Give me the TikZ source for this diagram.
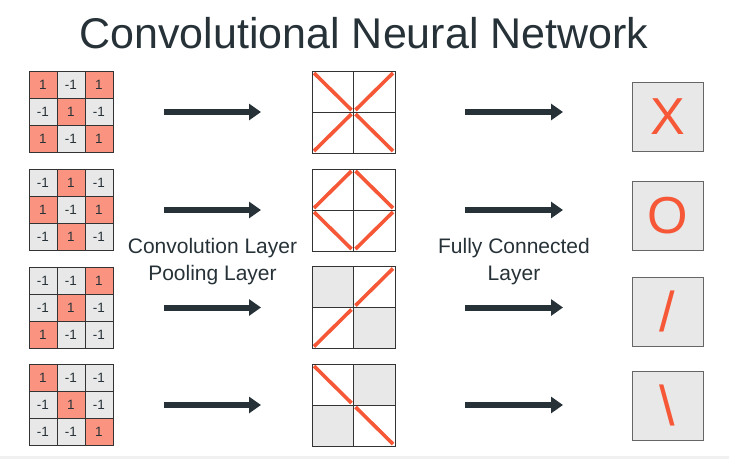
\documentclass[tikz,border=0pt]{standalone}
\usepackage{fontspec}
\setmainfont{Liberation Sans}
\usetikzlibrary{arrows.meta}

\definecolor{ink}{RGB}{38,50,56}
\definecolor{salmon}{RGB}{250,147,128}
\definecolor{cellgray}{RGB}{232,232,232}
\definecolor{redline}{RGB}{245,87,55}
\definecolor{frame}{RGB}{51,51,51}
\definecolor{band}{RGB}{240,240,240}

% input grid: name, centre y, nine values
\newcommand{\inputgrid}[3]{%
  \foreach \v [count=\i from 0] in {#3} {
    \pgfmathtruncatemacro\row{\i/3}
    \pgfmathtruncatemacro\col{mod(\i,3)}
    \ifnum\v=1 \def\cellfill{salmon}\else \def\cellfill{cellgray}\fi
    \node[numcell, fill=\cellfill] (#1-\row-\col) at (43+28*\col, #2-27+27*\row) {\v};
  }
  \node[gridframe] (#1) at (71,#2) {};
}

% pooled grid: name, centre y, four cells (u = /, d = \, g = gray, n = none)
\newcommand{\poolgrid}[3]{%
  \foreach \kind [count=\i from 0] in {#3} {
    \pgfmathtruncatemacro\row{\i/2}
    \pgfmathtruncatemacro\col{mod(\i,2)}
    \node[poolcell, pool\kind] (#1-\row-\col) at (332.75+41.5*\col, #2-20.5+41*\row) {};
  }
  \node[poolframe] (#1) at (353.5,#2) {};
}

\begin{document}
\begin{tikzpicture}
  [x=1pt, y=-1pt,
   numcell/.style={draw=frame, line width=0.8pt, minimum width=28pt, minimum height=27pt,
     inner sep=0pt, outer sep=0pt, text=ink, font=\fontsize{13.5}{13.5}\selectfont},
   gridframe/.style={draw=frame, line width=0.9pt, minimum width=84pt, minimum height=81pt,
     inner sep=0pt, outer sep=0pt},
   poolcell/.style={draw=frame, line width=0.8pt, minimum width=41.5pt, minimum height=41pt,
     inner sep=0pt, outer sep=0pt},
   poolframe/.style={draw=frame, line width=0.9pt, minimum width=83pt, minimum height=82pt,
     inner sep=0pt, outer sep=0pt},
   redstroke/.style={draw=redline, line width=3.6pt},
   poolg/.style={fill=cellgray},
   pooln/.style={},
   poolu/.style={path picture={\draw[redstroke]
     ([shift={(2pt,2pt)}]path picture bounding box.south west) --
     ([shift={(-2pt,-2pt)}]path picture bounding box.north east);}},
   poold/.style={path picture={\draw[redstroke]
     ([shift={(2pt,-2pt)}]path picture bounding box.north west) --
     ([shift={(-2pt,2pt)}]path picture bounding box.south east);}},
   outbox/.style={draw=frame!75, line width=0.9pt, fill=cellgray, minimum width=71pt,
     minimum height=69pt, inner sep=0pt, outer sep=0pt, text=redline,
     font=\fontsize{52}{52}\selectfont},
   slashbox/.style={outbox, font=\fontsize{56}{56}\selectfont},
   arrow/.style={draw=ink, line width=6pt, -{Triangle[length=12pt, width=16pt]}},
   lbl/.style={anchor=base, text=ink, font=\fontsize{21}{21}\selectfont},
   title/.style={anchor=base, text=ink, font=\fontsize{43}{43}\selectfont}]

  \useasboundingbox (0,0) rectangle (729,459);
  \fill[band] (0,455.5) rectangle (729,459);

  \node[title] (title) at (364,48) {Convolutional Neural Network};

  \inputgrid{in1}{112}{1,-1,1,-1,1,-1,1,-1,1}
  \inputgrid{in2}{210}{-1,1,-1,1,-1,1,-1,1,-1}
  \inputgrid{in3}{307.5}{-1,-1,1,-1,1,-1,1,-1,-1}
  \inputgrid{in4}{405}{1,-1,-1,-1,1,-1,-1,-1,1}

  \poolgrid{p1}{112}{d,u,u,d}
  \poolgrid{p2}{210}{u,d,d,u}
  \poolgrid{p3}{307.5}{g,u,u,g}
  \poolgrid{p4}{405}{d,g,g,d}

  \node[outbox] (o1) at (667.5,116.5) {X};
  \node[outbox] (o2) at (667.5,215.5) {O};
  \node[slashbox] (o3) at (667.5,311.5) {/};
  \node[slashbox] (o4) at (667.5,405.5) {\textbackslash};

  \foreach \k in {1,2,3,4} {
    \draw[arrow, shorten <=51pt, shorten >=51pt] (in\k) -- (p\k);
    \draw[arrow, shorten <=70pt, shorten >=69pt] (p\k.east) -- (p\k.east -| o\k.west);
  }

  \node[lbl] (convlbl) at (212.5,253) {Convolution Layer};
  \node[lbl] (poollbl) at (212.5,280) {Pooling Layer};
  \node[lbl] (fclbl) at (514,253) {Fully Connected};
  \node[lbl] (fclbl2) at (514,280) {Layer};
\end{tikzpicture}
\end{document}
